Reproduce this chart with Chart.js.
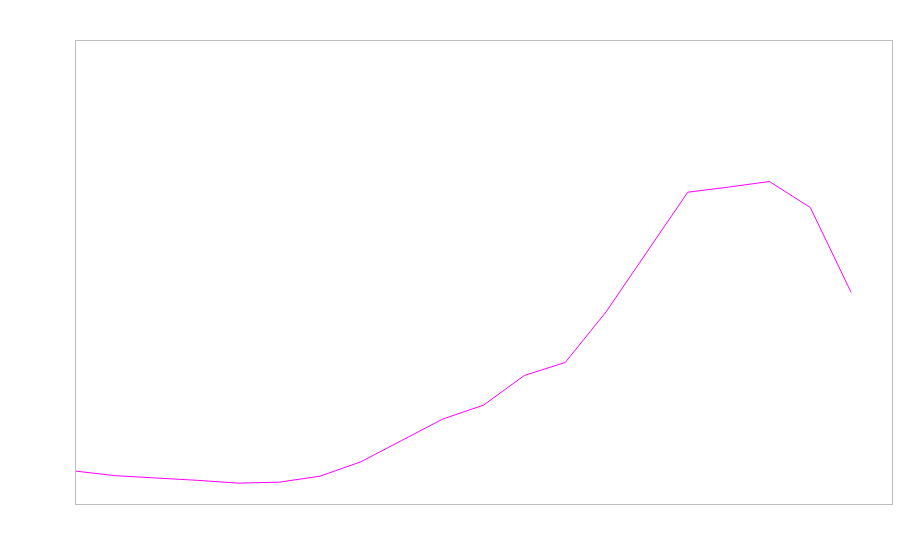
<!DOCTYPE html>
<html>
<head>
<meta charset="utf-8">
<script src="https://cdn.jsdelivr.net/npm/chart.js@4/dist/chart.umd.min.js"></script>
<style>
  body { margin: 0; background: #fff; }
</style>
</head>
<body>
<canvas id="chart" width="900" height="560"></canvas>
<script>
// x categories (21 slots, the last one has no value)
const labels = ['0','1','2','3','4','5','6','7','8','9','10','11','12','13','14','15','16','17','18','19','20'];
// series values
const values = [7.1, 6.1, 5.6, 5.1, 4.5, 4.7, 6.0, 9.1, 13.7, 18.3, 21.3, 27.7, 30.5, 41.4, 54.3, 67.2, 68.3, 69.5, 63.9, 45.6, null];

// frame around the plot area
const frame = {
    id: 'frame',
    afterDraw(chart) {
        const a = chart.chartArea;
        const c = chart.ctx;
        c.save();
        c.strokeStyle = '#bdbdbd';
        c.lineWidth = 1;
        c.strokeRect(Math.round(a.left) + 0.5, Math.round(a.top) + 0.5,
                     Math.round(a.right - a.left), Math.round(a.bottom - a.top));
        c.restore();
    }
};

const ctx = document.getElementById('chart').getContext('2d');
new Chart(ctx, {
    type: 'line',
    data: {
        labels: labels,
        datasets: [{
            data: values,
            borderColor: '#ff00ff',
            borderWidth: 1,
            pointRadius: 0,
            fill: false,
            tension: 0
        }]
    },
    options: {
        responsive: false,
        animation: false,
        layout: { padding: { left: 75, right: 8, top: 40, bottom: 56 } },
        plugins: {
            legend: { display: false },
            tooltip: { enabled: false }
        },
        scales: {
            x: {
                display: false,
                offset: false
            },
            y: {
                display: false,
                min: 0,
                max: 100
            }
        }
    },
    plugins: [frame]
});
</script>
</body>
</html>
